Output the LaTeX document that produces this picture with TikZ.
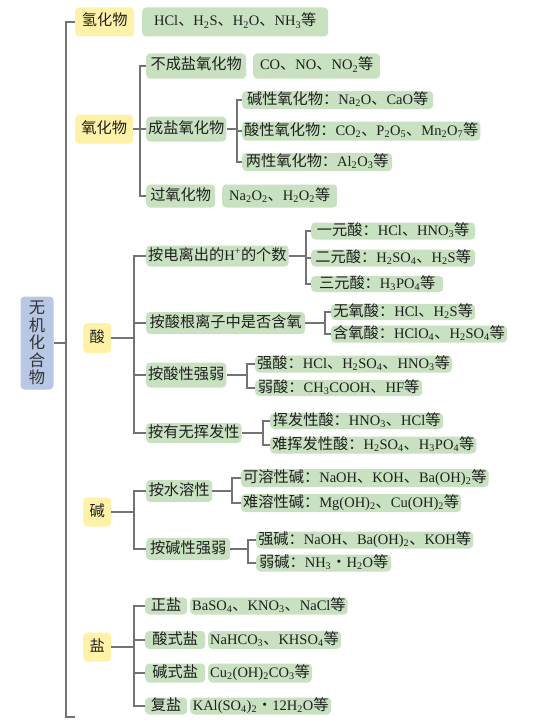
\documentclass[tikz,border=0pt]{standalone}
\usepackage{fontspec}
\setmainfont{Liberation Serif}
\newfontfamily\zh[Scale=1.05]{Noto Sans CJK SC}
\usetikzlibrary{positioning}
\definecolor{rootblue}{RGB}{183,199,228}
\definecolor{classyellow}{RGB}{255,242,168}
\definecolor{itemgreen}{RGB}{200,225,192}
\definecolor{linegray}{RGB}{115,115,115}
\newcommand\z[1]{{\zh #1}}
\newcommand\sub[1]{\textsubscript{#1}}
\tikzset{
    chem box/.style={
        rectangle,
        rounded corners=4pt,
        draw=none,
        inner xsep=2pt,
        inner ysep=0pt,
        text height=11pt,
        text depth=3pt,
        font=\fontsize{14.5}{16}\selectfont,
        text=black!88,
        anchor=west
    },
    chem root/.style={rectangle, rounded corners=4pt, fill=rootblue, inner sep=0pt,
        align=center, text=black!80, font=\zh\fontsize{15.5}{17.5}\selectfont},
    chem class/.style={chem box, fill=classyellow},
    chem item/.style={chem box, fill=itemgreen},
    box size/.style 2 args={minimum width=#1pt, minimum height=#2pt},
    tree line/.style={draw=linegray, line width=1.1pt}
}

\begin{document}
\begin{tikzpicture}[x=1pt, y=-1pt]
\useasboundingbox (0,0) rectangle (545,725);

% root and the main trunk
\node[chem root, box size={33}{93}] (root) at (37,343) {无\\机\\化\\合\\物};
\coordinate (tTop) at (66,22);
\coordinate (tBot) at (66,717);
\coordinate (tEnd) at (75,717);

% first level
\node[chem class, box size={59}{29}] (hyd) at (75,22) {\z{氢化物}};
\node[chem class, box size={58}{29}] (oxi) at (75,129) {\z{氧化物}};
\node[chem class, box size={28}{30}] (acid) at (83,338) {\z{酸}};
\node[chem class, box size={28}{29}] (base) at (83,512) {\z{碱}};
\node[chem class, box size={28}{29}] (salt) at (83,647) {\z{盐}};

% hydrides
\node[chem item, box size={186}{29}] (hydlist) at (142,22) {HCl\z{、}H\sub2S\z{、}H\sub2O\z{、}NH\sub3\z{等}};

% oxides
\node[chem item, box size={100}{25}] (nonsalt) at (146,66) {\z{不成盐氧化物}};
\node[chem item, box size={127}{25}] (nonsaltlist) at (253,66) {CO\z{、}NO\z{、}NO\sub2\z{等}};
\node[chem item, box size={80}{25}] (saltform) at (146,129) {\z{成盐氧化物}};
\node[chem item, box size={191}{18}] (basicox) at (242,100) {\z{碱性氧化物：}Na\sub2O\z{、}CaO\z{等}};
\node[chem item, box size={233}{19}] (acidox) at (242,131) {\z{酸性氧化物：}CO\sub2\z{、}P\sub2O\sub5\z{、}Mn\sub2O\sub7\z{等}};
\node[chem item, box size={150}{18}] (amphox) at (242,162) {\z{两性氧化物：}Al\sub2O\sub3\z{等}};
\node[chem item, box size={69}{23}] (peroxide) at (146,196) {\z{过氧化物}};
\node[chem item, box size={115}{23}] (peroxidelist) at (222,196) {Na\sub2O\sub2\z{、}H\sub2O\sub2\z{等}};

% acids
\node[chem item, box size={141}{21}] (byH) at (146,256) {\z{按电离出的}H\textsuperscript{+}\z{的个数}};
\node[chem item, box size={164}{17}] (mono) at (311,231) {\z{一元酸：}HCl\z{、}HNO\sub3\z{等}};
\node[chem item, box size={164}{17}] (di) at (311,258) {\z{二元酸：}H\sub2SO\sub4\z{、}H\sub2S\z{等}};
\node[chem item, box size={132}{16}] (tri) at (311,284) {\z{三元酸：}H\sub3PO\sub4\z{等}};
\node[chem item, box size={159}{22}] (byO) at (146,323) {\z{按酸根离子中是否含氧}};
\node[chem item, box size={144}{16}] (anoxy) at (331,312) {\z{无氧酸：}HCl\z{、}H\sub2S\z{等}};
\node[chem item, box size={174}{17}] (oxy) at (331,334) {\z{含氧酸：}HClO\sub4\z{、}H\sub2SO\sub4\z{等}};
\node[chem item, box size={79}{25}] (byStr) at (146,375) {\z{按酸性强弱}};
\node[chem item, box size={193}{17}] (strong) at (255,364) {\z{强酸：}HCl\z{、}H\sub2SO\sub4\z{、}HNO\sub3\z{等}};
\node[chem item, box size={167}{16}] (weak) at (255,388) {\z{弱酸：}CH\sub3COOH\z{、}HF\z{等}};
\node[chem item, box size={94}{20}] (byVol) at (146,433) {\z{按有无挥发性}};
\node[chem item, box size={173}{16}] (vol) at (270,421) {\z{挥发性酸：}HNO\sub3\z{、}HCl\z{等}};
\node[chem item, box size={203}{17}] (nonvol) at (270,445) {\z{难挥发性酸：}H\sub2SO\sub4\z{、}H\sub3PO\sub4\z{等}};

% bases
\node[chem item, box size={66}{22}] (bySol) at (146,491) {\z{按水溶性}};
\node[chem item, box size={244}{18}] (sol) at (241,478) {\z{可溶性碱：}NaOH\z{、}KOH\z{、}Ba(OH)\sub2\z{等}};
\node[chem item, box size={214}{18}] (insol) at (241,503) {\z{难溶性碱：}Mg(OH)\sub2\z{、}Cu(OH)\sub2\z{等}};
\node[chem item, box size={84}{22}] (byBStr) at (146,549) {\z{按碱性强弱}};
\node[chem item, box size={217}{17}] (sbase) at (256,540) {\z{强碱：}NaOH\z{、}Ba(OH)\sub2\z{、}KOH\z{等}};
\node[chem item, box size={135}{17}] (wbase) at (256,563) {\z{弱碱：}NH\sub3\z{・}H\sub2O\z{等}};

% salts
\node[chem item, box size={42}{17}] (normal) at (145,606) {\z{正盐}};
\node[chem item, box size={157}{17}] (normallist) at (190,606) {BaSO\sub4\z{、}KNO\sub3\z{、}NaCl\z{等}};
\node[chem item, box size={60}{18}] (acidsalt) at (145,640) {\z{酸式盐}};
\node[chem item, box size={132}{18}] (acidsaltlist) at (208,640) {NaHCO\sub3\z{、}KHSO\sub4\z{等}};
\node[chem item, box size={60}{19}] (basicsalt) at (145,673) {\z{碱式盐}};
\node[chem item, box size={98}{19}] (basicsaltlist) at (208,673) {Cu\sub2(OH)\sub2CO\sub3\z{等}};
\node[chem item, box size={42}{17}] (double) at (145,706) {\z{复盐}};
\node[chem item, box size={141}{17}] (doublelist) at (190,706) {KAl(SO\sub4)\sub2\z{・}12H\sub2O\z{等}};

% connectors
\draw[tree line] (hyd.west) -- (tTop) -- (tBot) -- (tEnd);
\draw[tree line] (root.east) -- (root.east -| tTop);
\foreach \c in {nonsalt,saltform,peroxide}
    \draw[tree line] (\c.west) -- ++(-6,0) |- (oxi.east);
\foreach \c in {basicox,acidox,amphox}
    \draw[tree line] (\c.west) -- ++(-5,0) |- (saltform.east);
\foreach \c in {byH,byO,byStr,byVol}
    \draw[tree line] (\c.west) -- ++(-12,0) |- (acid.east);
\foreach \c in {mono,di,tri}
    \draw[tree line] (\c.west) -- ++(-5,0) |- (byH.east);
\foreach \c in {anoxy,oxy}
    \draw[tree line] (\c.west) -- ++(-6,0) |- (byO.east);
\foreach \c in {strong,weak}
    \draw[tree line] (\c.west) -- ++(-8,0) |- (byStr.east);
\foreach \c in {vol,nonvol}
    \draw[tree line] (\c.west) -- ++(-7,0) |- (byVol.east);
\foreach \c in {bySol,byBStr}
    \draw[tree line] (\c.west) -- ++(-12,0) |- (base.east);
\foreach \c in {sol,insol}
    \draw[tree line] (\c.west) -- ++(-9,0) |- (bySol.east);
\foreach \c in {sbase,wbase}
    \draw[tree line] (\c.west) -- ++(-8,0) |- (byBStr.east);
\foreach \c in {normal,acidsalt,basicsalt,double}
    \draw[tree line] (\c.west) -- ++(-11,0) |- (salt.east);

\end{tikzpicture}
\end{document}
